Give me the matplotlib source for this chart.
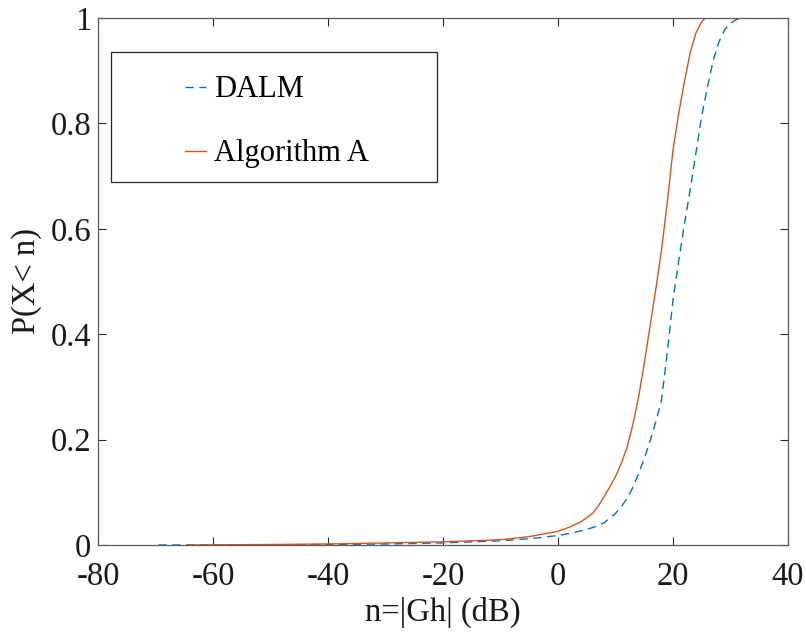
import numpy as np
import matplotlib
matplotlib.use("Agg")
import matplotlib.pyplot as plt
from matplotlib.patches import Rectangle

# CDF samples read per curve (x in dB, y = P(X < n))
dalm_x = [-69.5, -50, -40, -30, -20, -10, -5, 0, 2, 4, 6, 8, 10, 11, 12, 13, 14, 15, 16,
          17, 18, 19, 20, 21, 22, 23, 24, 25, 26, 27, 28, 29, 30, 31, 32, 34]
dalm_y = [0, 0.0005, 0.001, 0.002, 0.004, 0.008, 0.012, 0.018, 0.022, 0.027, 0.033,
          0.042, 0.060, 0.073, 0.088, 0.109, 0.135, 0.164, 0.197, 0.234, 0.275, 0.365,
          0.465, 0.54, 0.61, 0.675, 0.745, 0.815, 0.87, 0.92, 0.955, 0.978, 0.99, 0.997,
          1.0, 1.0]

alg_x = [-64.5, -50, -40, -30, -20, -10, -5, 0, 2, 4, 6, 7, 8, 9, 10, 11, 12, 13, 14,
         15, 16, 17, 18, 19, 20, 21, 22, 23, 24, 25, 25.6]
alg_y = [0, 0.001, 0.002, 0.004, 0.006, 0.010, 0.016, 0.026, 0.034, 0.044, 0.060,
         0.074, 0.092, 0.110, 0.13, 0.155, 0.185, 0.228, 0.28, 0.345, 0.415, 0.485,
         0.56, 0.65, 0.75, 0.82, 0.88, 0.935, 0.972, 0.993, 1.0]

x_ticks = [-80, -60, -40, -20, 0, 20, 40]
y_ticks = [0, 0.2, 0.4, 0.6, 0.8, 1]
y_ticklabels = ["0", "0.2", "0.4", "0.6", "0.8", "1"]

plt.rcParams['font.family'] = ['Liberation Serif', 'DejaVu Serif']
plt.rcParams['axes.unicode_minus'] = False

fig = plt.figure(figsize=(8.06, 6.35), dpi=100)
ax = fig.add_axes([0.1216, 0.1417, 0.8561, 0.8300])

blue = '#0072BD'
orange = '#D95319'
ax.plot(dalm_x, dalm_y, color=blue, lw=1.0, ls='--', dashes=(6, 4), label='DALM')
ax.plot(alg_x, alg_y, color=orange, lw=1.0, label='Algorithm A')

ax.set_xlim(-80, 40)
ax.set_ylim(0, 1)
ax.set_xticks(x_ticks)
ax.set_yticks(y_ticks)
ax.set_yticklabels(y_ticklabels)

fs = 23.5
ax.tick_params(direction='in', length=6, width=0.8, colors='#262626',
               labelcolor='#1a1a1a', labelsize=fs, top=True, right=True)
ax.tick_params(axis='x', pad=12)
ax.tick_params(axis='y', pad=5)
for s in ax.spines.values():
    s.set_color('#5a5a5a')
    s.set_linewidth(0.9)

ax.set_xlabel('n=|Gh| (dB)', fontsize=fs, color='#1a1a1a', labelpad=3)
ax.set_ylabel('P(X< n)', fontsize=fs, color='#1a1a1a', labelpad=6)

# legend box drawn separately, entries placed inside
ax.add_patch(Rectangle((0.019, 0.689), 0.472, 0.246, transform=ax.transAxes,
                       facecolor='white', edgecolor='#262626', lw=0.9, zorder=3))
leg = ax.legend(loc='center left', bbox_to_anchor=(0.126, 0.803), frameon=False,
                fontsize=fs - 1.5, handlelength=0.7, handletextpad=0.25,
                labelspacing=1.15, borderpad=0, borderaxespad=0)
leg.set_zorder(4)

fig.savefig('out.png', dpi=100)
